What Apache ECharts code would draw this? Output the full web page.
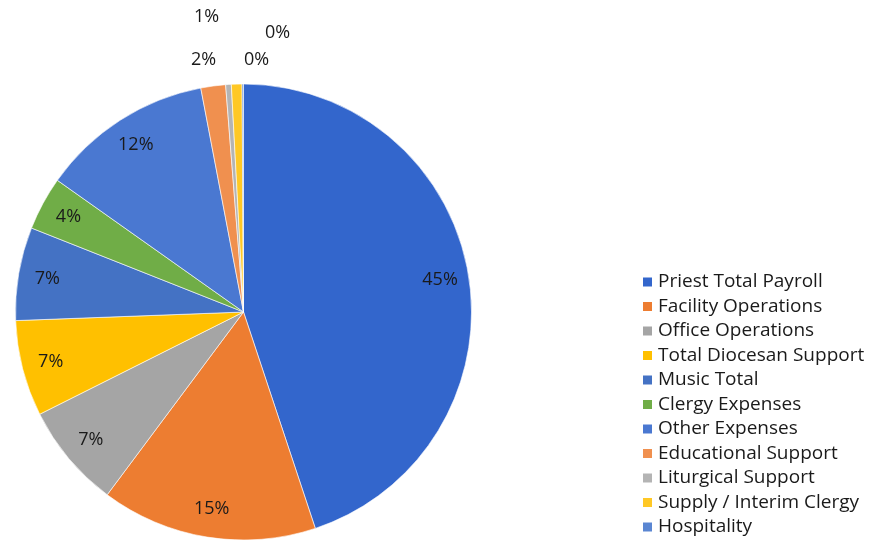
<!DOCTYPE html>
<html><head><meta charset="utf-8">
<script src="https://cdn.jsdelivr.net/npm/echarts@6/dist/echarts.min.js"></script>
<style>html,body{margin:0;padding:0;background:#fff}#c{width:878px;height:547px}</style>
</head><body><div id="c"></div>
<script>
const categories = ["Priest Total Payroll","Facility Operations","Office Operations","Total Diocesan Support","Music Total","Clergy Expenses","Other Expenses","Educational Support","Liturgical Support","Supply / Interim Clergy","Hospitality"];
const values = [44.9,15.3,7.4,6.8,6.6,3.8,12.2,1.75,0.4,0.75,0.1];
const colors = ["#3366cc","#ed7d31","#a5a5a5","#ffc000","#4472c4","#70ad47","#4a78d1","#f0904f","#b4b4b4","#ffc825","#5a86d2"];

const total = values.reduce((a,b)=>a+b,0);
const pct = v => Math.round(v/total*100) + '%';
const FONT = 'Open Sans';

const chart = echarts.init(document.getElementById('c'), null, {renderer:'canvas'});
const R = 228, CX = 243.5, CY = 312;
// label anchor spots for the tiny slices near 12 o'clock (offsets from pie centre)
const smallSpots = {7:[-40,-252], 8:[13,-252], 9:[-37,-295], 10:[34,-279]};
const mainData = categories.map((n,i)=>({name:n, value:values[i], itemStyle:{color:colors[i]}}));
const labelData = categories.map((n,i)=>({name:n, value:values[i]}));
chart.setOption({
  animation:false,
  legend:{
    orient:'vertical', left:636, top:267,
    itemWidth:11, itemHeight:11, itemGap:4.5,
    icon:'rect',
    data:categories,
    textStyle:{fontFamily:FONT, fontSize:19, color:'#1a1a1a', lineHeight:20}
  },
  series:[
    {
      type:'pie', center:[CX,CY], radius:R, startAngle:90, clockwise:true,
      label:{show:false}, labelLine:{show:false}, silent:true,
      itemStyle:{borderColor:'#fff', borderWidth:0.6},
      data:mainData
    },
    {
      type:'pie', center:[CX,CY], radius:[R*0.72,R], startAngle:90, clockwise:true,
      silent:true, avoidLabelOverlap:false,
      itemStyle:{color:'rgba(0,0,0,0)'},
      label:{show:true, position:'inside', fontFamily:FONT, fontSize:18, color:'#1a1a1a',
        formatter:p=>pct(p.value)},
      labelLine:{show:false},
      labelLayout:function(p){
        const s = smallSpots[p.dataIndex];
        if (!s) return {hideOverlap:false};
        return {x:CX+s[0], y:CY+s[1], align:'center', verticalAlign:'middle', hideOverlap:false};
      },
      data:labelData
    }
  ]
});
</script></body></html>
